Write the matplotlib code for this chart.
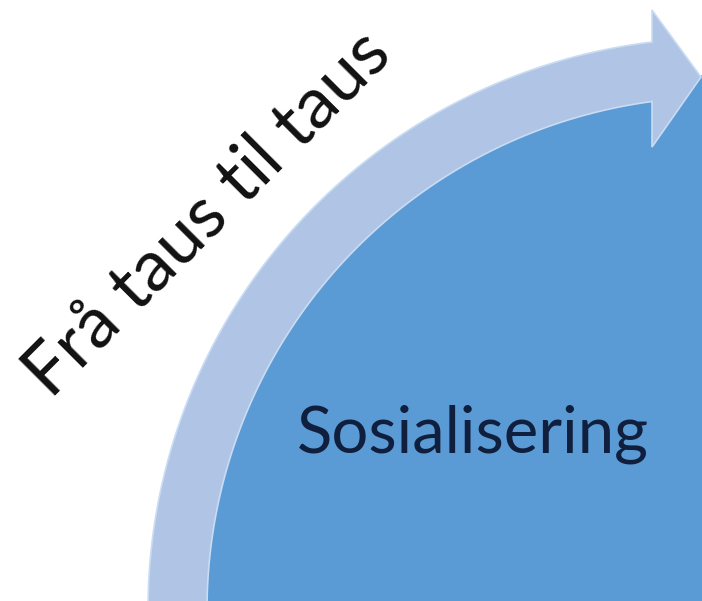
import numpy as np
import matplotlib
matplotlib.use("Agg")
import matplotlib.pyplot as plt
from matplotlib.patches import Polygon

# ===== CONFIG (pixel geometry of the diagram) =====
W, H = 702, 601
CENTER = (720, 610)          # centre of the quarter circle
R_DISK = 535                 # dark quarter disk radius (partly under the band)
R_BAND_IN = 513              # arrow band inner radius
R_BAND_OUT = 572             # arrow band outer radius
BAND_START_DEG = -5
HEAD_BASE_X = 652            # arrow head back edge
HEAD_TOP_Y = 10
HEAD_BOTTOM_Y = 147
HEAD_TIP = (701, 77)

DISK_COLOR = "#5B9BD5"
BAND_COLOR = "#B0C5E6"
EDGE_COLOR = "#C9DCF2"

TITLE_TEXT = "Frå taus til taus"
TITLE_POS = (208, 214)
TITLE_ANGLE = 45
LABEL_TEXT = "Sosialisering"
LABEL_POS = (473, 452)
FONT = ["Lato", "DejaVu Sans"]


def arc(r, t0, t1, n=200):
    t = np.radians(np.linspace(t0, t1, n))
    return np.column_stack([CENTER[0] - r * np.cos(t), CENTER[1] - r * np.sin(t)])


def angle_at_x(r, x):
    return np.degrees(np.arccos((CENTER[0] - x) / r))


fig = plt.figure(figsize=(W / 100, H / 100), dpi=100)
ax = fig.add_axes([0, 0, 1, 1])
ax.set_xlim(0, W)
ax.set_ylim(H, 0)
ax.axis("off")

# dark quarter disk
disk = np.vstack([arc(R_DISK, BAND_START_DEG, 95), [[W + 50, H + 50]]])
ax.add_patch(Polygon(disk, closed=True, facecolor=DISK_COLOR, edgecolor="none"))

# curved arrow
t_out = angle_at_x(R_BAND_OUT, HEAD_BASE_X)
t_in = angle_at_x(R_BAND_IN, HEAD_BASE_X)
outer = arc(R_BAND_OUT, BAND_START_DEG, t_out)
inner = arc(R_BAND_IN, t_in, BAND_START_DEG)
head = np.array([[HEAD_BASE_X, HEAD_TOP_Y], HEAD_TIP, [HEAD_BASE_X, HEAD_BOTTOM_Y]])
arrow = np.vstack([outer, head, inner])
ax.add_patch(Polygon(arrow, closed=True, facecolor=BAND_COLOR,
                     edgecolor=EDGE_COLOR, linewidth=1.2))

ax.text(TITLE_POS[0], TITLE_POS[1], TITLE_TEXT, rotation=TITLE_ANGLE,
        rotation_mode="anchor", ha="center", va="center",
        fontsize=52, color="#111111", family=FONT)
ax.text(LABEL_POS[0], LABEL_POS[1], LABEL_TEXT, ha="center", va="baseline",
        fontsize=47, color="#0F1F3D", family=FONT)

fig.savefig("out.png", dpi=100)
